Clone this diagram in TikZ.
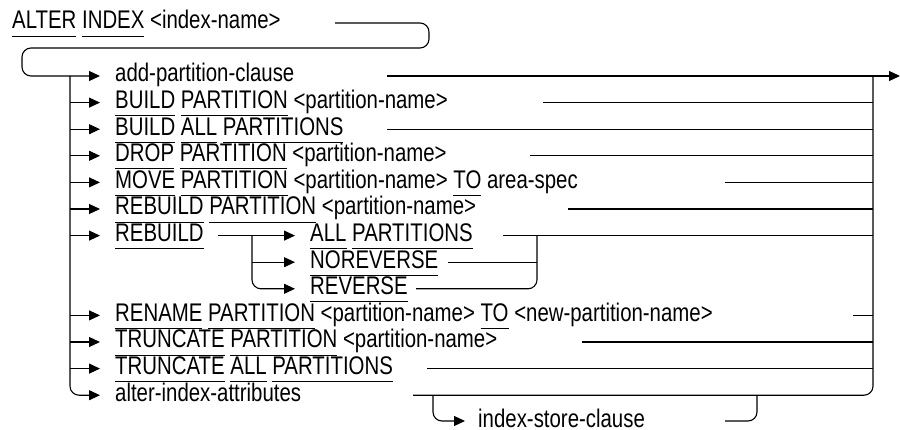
\documentclass[tikz,border=0pt]{standalone}
\usepackage{fontspec}
\setmainfont[FakeStretch=0.8]{Liberation Sans}
\usetikzlibrary{arrows.meta}

%% underlined keyword
\newsavebox\kwbox
\newcommand\kw[1]{\sbox\kwbox{#1}\rlap{\rule[-7.5pt]{\wd\kwbox}{0.8pt}}\usebox\kwbox}

\tikzset{
  rail/.style={line width=1.1pt, rounded corners=9pt},
  into/.style={rail, -{Triangle[length=11pt,width=10pt]}},
  entry/.style={anchor=west, inner sep=0pt, text height=13pt, text depth=1pt,
    font=\fontsize{25.5}{27}\selectfont},
}

\begin{document}
\begin{tikzpicture}[x=1pt,y=-1pt]
\useasboundingbox (0,0) rectangle (900,430);

%% first line
\node[entry] (alter) at (12,23) {\kw{ALTER} \kw{INDEX} <index-name>};
\coordinate (alter-out) at (335,23);
\coordinate (turnR) at (429,48);
\coordinate (turnL) at (22,48);

\node[entry] (addp) at (115,76) {add-partition-clause};
\coordinate (addp-out) at (387,76);
\coordinate (trunk) at (70,76);
\coordinate (exit) at (873,76);
\coordinate (end) at (900,76);

\draw[into] (alter-out) -| (turnR) -- (turnL) |- ([xshift=-15pt]addp.west);
\draw[into] (addp-out) -- (end);

%% main rows: name / y / text / start of the line to the right
\foreach \n/\y/\txt/\sx in {
  buildp/102.6/{\kw{BUILD} \kw{PARTITION} <partition-name>}/543,
  buildall/129.2/{\kw{BUILD} \kw{ALL} \kw{PARTITIONS}}/387,
  dropp/155.8/{\kw{DROP} \kw{PARTITION} <partition-name>}/530,
  movep/182.4/{\kw{MOVE} \kw{PARTITION} <partition-name> \kw{TO} area-spec}/725,
  rebuildp/209/{\kw{REBUILD} \kw{PARTITION} <partition-name>}/568,
  renamep/315.4/{\kw{RENAME} \kw{PARTITION} <partition-name> \kw{TO} <new-partition-name>}/853,
  truncp/342/{\kw{TRUNCATE} \kw{PARTITION} <partition-name>}/582,
  truncall/368.6/{\kw{TRUNCATE} \kw{ALL} \kw{PARTITIONS}}/427}{
  \node[entry] (\n) at (115,\y) {\txt};
  \coordinate (\n-out) at (\sx,\y);
  \draw[into] (trunk |- \n.west) -- ([xshift=-15pt]\n.west);
  \draw[rail] (\n-out) -- (exit |- \n-out);
}

%% REBUILD with its three choices
\node[entry] (rebuild) at (115,235.6) {\kw{REBUILD}};
\node[entry] (allp) at (310,235.6) {\kw{ALL} \kw{PARTITIONS}};
\node[entry] (norev) at (310,262.2) {\kw{NOREVERSE}};
\node[entry] (rev) at (310,288.8) {\kw{REVERSE}};
\coordinate (rebuild-out) at (218,235.6);
\coordinate (fork) at (252,235.6);
\coordinate (join) at (537,235.6);
\coordinate (allp-out) at (503,235.6);
\coordinate (norev-out) at (448,262.2);
\coordinate (rev-out) at (416,288.8);

\draw[into] (trunk |- rebuild.west) -- ([xshift=-15pt]rebuild.west);
\draw[into] (rebuild-out) -- ([xshift=-15pt]allp.west);
\draw[into] (fork |- norev.west) -- ([xshift=-15pt]norev.west);
\draw[into] (fork) |- ([xshift=-15pt]rev.west);
\draw[rail] (allp-out) -- (exit |- allp-out);
\draw[rail] (norev-out) -- (join |- norev-out);
\draw[rail] (rev-out) -| (join);

%% last row and index-store-clause
\node[entry] (attrs) at (115,395.2) {alter-index-attributes};
\node[entry] (store) at (478,421) {index-store-clause};
\coordinate (attrs-out) at (413,395.2);
\coordinate (split) at (433,395.2);
\coordinate (merge) at (757,395.2);
\coordinate (store-out) at (725,421);

\draw[into] (trunk) |- ([xshift=-15pt]attrs.west);
\draw[rail] (attrs-out) -| (exit);
\draw[into] (split) |- ([xshift=-13pt]store.west);
\draw[rail] (store-out) -| (merge);
\end{tikzpicture}
\end{document}
